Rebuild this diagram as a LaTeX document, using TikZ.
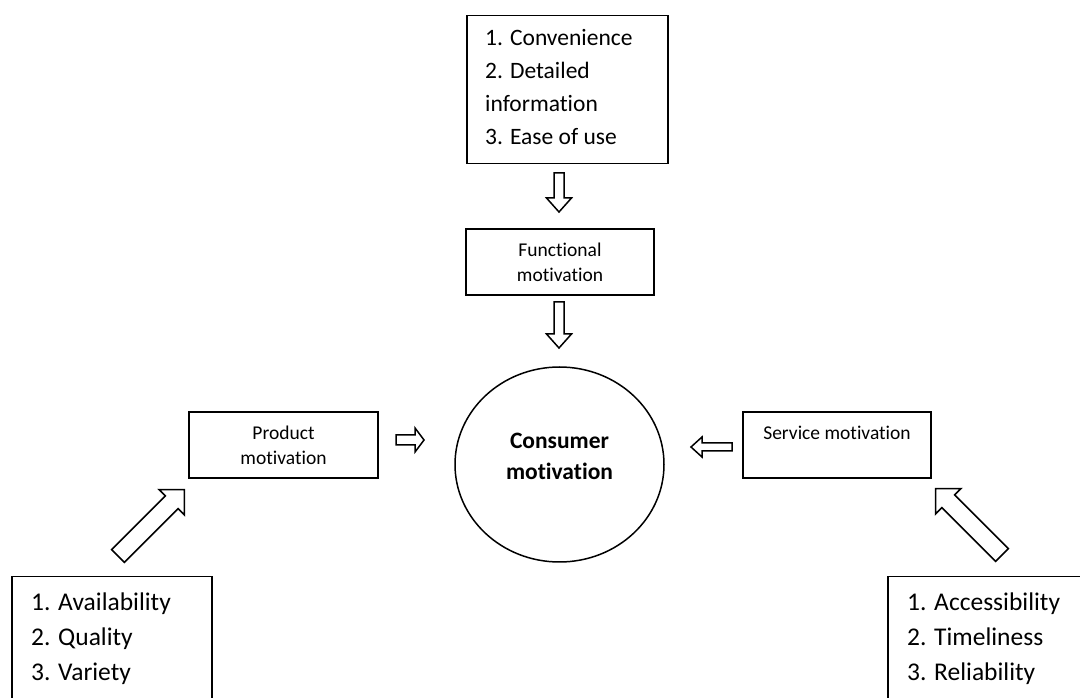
\documentclass[tikz,border=0pt]{standalone}
\usepackage{fontspec}
\setmainfont{Carlito}[Ligatures={NoCommon,NoDiscretionary,NoContextual}]
\usetikzlibrary{shapes.geometric,calc,positioning}

\tikzset{
  box/.style={draw, line width=1.5pt, rectangle, inner sep=0pt},
  smalltext/.style={font=\fontsize{19.5}{25}\selectfont, align=center},
  listtext/.style={font=\fontsize{23.5}{33}\selectfont, align=left, inner sep=0pt, anchor=north west},
  biglist/.style={font=\fontsize{25.5}{35}\selectfont, align=left, inner sep=0pt, anchor=north west},
  pics/blockarrow/.style n args={4}{code={
    \draw[line width=1.5pt, fill=white, line join=miter]
      (0,-#2) -- ({#1-#4},-#2) -- ({#1-#4},-#3) -- (#1,0) -- ({#1-#4},#3) -- ({#1-#4},#2) -- (0,#2) -- cycle;
  }},
}

\begin{document}
\begin{tikzpicture}[x=1pt, y=1pt]
          % Page frame
          \path[use as bounding box] (0,0) rectangle (1080,697);
          \clip (0,0) rectangle (1080,697);
          % Top list box
          \node[box, anchor=north west, minimum width=201, minimum height=148] (topbox) at (466,682) {};
          \node[listtext] (toplist) at ([xshift=19, yshift=-14.5]topbox.north west) {1. Convenience\\2. Detailed\\information\\3. Ease of use};
          % Middle boxes
          \node[box, smalltext, minimum width=188, minimum height=66] (func) at (560,435) {Functional\\motivation};
          \node[box, smalltext, minimum width=189, minimum height=66] (prod) at (283.5,252) {Product\\motivation};
          \node[box, smalltext, minimum width=188, minimum height=66] (serv) at (837,252) {Service motivation\\\mbox{}};
          % Central ellipse
          \node[draw, ellipse, line width=1.5pt, minimum width=209, minimum height=195] (cons) at (559.5,232.5) {};
          \node[font=\bfseries\fontsize{23.5}{31}\selectfont, align=center] (constext) at ([yshift=8]cons.center) {Consumer\\motivation};
          % Bottom list boxes
          \node[box, anchor=north west, minimum width=200, minimum height=150] (avail) at (11,121) {};
          \node[biglist] (availlist) at ([xshift=20, yshift=-16.5]avail.north west) {1. Availability\\2. Quality\\3. Variety};
          \node[box, anchor=north west, minimum width=220, minimum height=150] (access) at (887,121) {};
          \node[biglist] (accesslist) at ([xshift=20, yshift=-16.5]access.north west) {1. Accessibility\\2. Timeliness\\3. Reliability};
          % Hollow arrows
          \pic[rotate=-90] at (559,524) {blockarrow={39}{5}{12.5}{14}};
          \pic[rotate=-90] at (559,395) {blockarrow={46}{5}{12.5}{14}};
          \pic at (396,257) {blockarrow={28}{5}{12}{9}};
          \pic[rotate=180] at (732,250) {blockarrow={41}{4}{10}{11}};
          \pic[rotate=45] at (118,141) {blockarrow={94}{9}{18}{18}};
          \pic[rotate=135] at (1002,142) {blockarrow={94}{9}{18}{18}};
\end{tikzpicture}
\end{document}
